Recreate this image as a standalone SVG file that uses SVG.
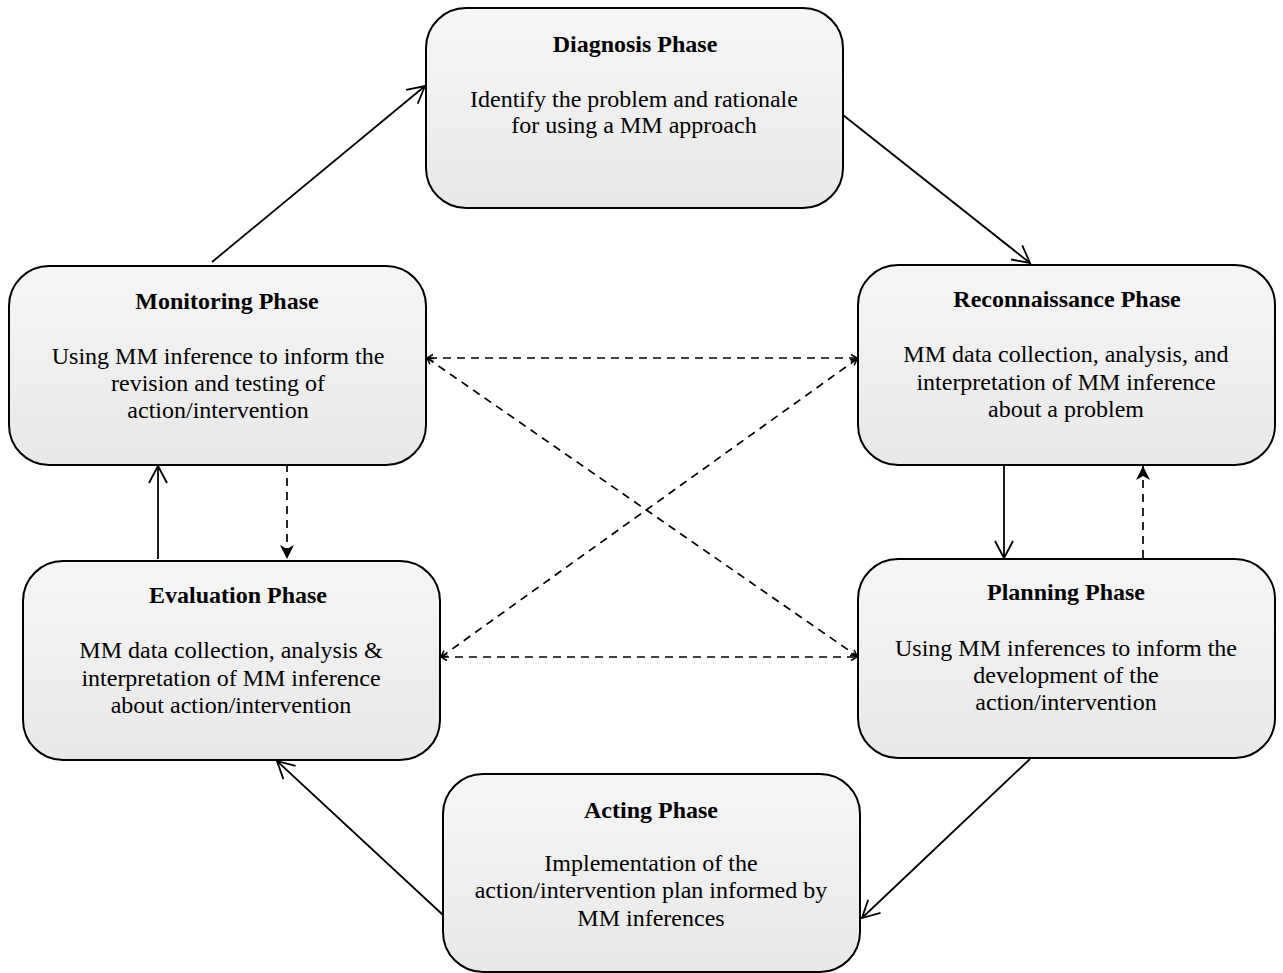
<svg xmlns="http://www.w3.org/2000/svg" width="1283" height="973" viewBox="0 0 1283 973">
<defs>
<linearGradient id="g" x1="0" y1="0" x2="0" y2="1">
<stop offset="0" stop-color="#f6f6f6"/>
<stop offset="1" stop-color="#e8e8e8"/>
</linearGradient>
<marker id="open" markerUnits="userSpaceOnUse" markerWidth="30" markerHeight="30" viewBox="-20 -15 30 30" refX="0" refY="0" orient="auto" overflow="visible">
<path d="M-17,-9 L0,0 L-17,9" fill="none" stroke="#000" stroke-width="1.8"/>
</marker>
<marker id="fill" markerUnits="userSpaceOnUse" markerWidth="30" markerHeight="30" viewBox="-20 -15 30 30" refX="0" refY="0" orient="auto" overflow="visible">
<path d="M0,0 L-14,-7 L-10,0 L-14,7 Z" fill="#000" stroke="none"/>
</marker>
<marker id="small" markerUnits="userSpaceOnUse" markerWidth="20" markerHeight="20" viewBox="-10 -10 20 20" refX="0" refY="0" orient="auto" overflow="visible">
<path d="M-6,-3.5 L0,0 L-6,3.5" fill="none" stroke="#000" stroke-width="1.5"/>
</marker>
<marker id="smallstart" markerUnits="userSpaceOnUse" markerWidth="20" markerHeight="20" viewBox="-10 -10 20 20" refX="0" refY="0" orient="auto-start-reverse" overflow="visible">
<path d="M-6,-3.5 L0,0 L-6,3.5" fill="none" stroke="#000" stroke-width="1.5"/>
</marker>
</defs>
<style>
.box{fill:url(#g);stroke:#000;stroke-width:2}
.t{font-family:"Liberation Serif","Times New Roman",serif;font-size:24px;font-weight:bold;text-anchor:middle;fill:#000}
.b{font-family:"Liberation Serif","Times New Roman",serif;font-size:24px;text-anchor:middle;fill:#000}
.s{fill:none;stroke:#000;stroke-width:1.8}
.d{fill:none;stroke:#000;stroke-width:1.7;stroke-dasharray:8 6}
</style>
<rect width="1283" height="973" fill="#fff"/>
<g id="connectors">
<line class="s" x1="212" y1="262" x2="425" y2="86" marker-end="url(#open)"/>
<line class="s" x1="843" y1="115" x2="1030" y2="263" marker-end="url(#open)"/>
<line class="s" x1="1004" y1="465" x2="1004" y2="558" marker-end="url(#open)"/>
<line class="d" x1="1143" y1="558" x2="1143" y2="466" marker-end="url(#fill)"/>
<line class="d" x1="287" y1="464" x2="287" y2="559" marker-end="url(#fill)"/>
<line class="s" x1="158" y1="559" x2="158" y2="466" marker-end="url(#open)"/>
<line class="s" x1="1030" y1="759" x2="862" y2="918" marker-end="url(#open)"/>
<line class="s" x1="443" y1="915" x2="277" y2="761" marker-end="url(#open)"/>
<line class="d" x1="857" y1="358" x2="427" y2="358" marker-start="url(#smallstart)" marker-end="url(#small)"/>
<line class="d" x1="441" y1="657" x2="857" y2="657" marker-start="url(#smallstart)" marker-end="url(#small)"/>
<line class="d" x1="427" y1="358" x2="857" y2="656" marker-start="url(#smallstart)" marker-end="url(#small)"/>
<line class="d" x1="441" y1="657" x2="857" y2="359" marker-start="url(#smallstart)" marker-end="url(#small)"/>
</g>
<g id="diagnosis">
<rect class="box" x="426" y="8" width="417" height="200" rx="40"/>
<text class="t" x="635" y="52">Diagnosis Phase</text>
<text class="b" x="634" y="107">Identify the problem and rationale</text>
<text class="b" x="634" y="133">for using a MM approach</text>
</g>
<g id="monitoring">
<rect class="box" x="9" y="266" width="417" height="199" rx="40"/>
<text class="t" x="227" y="309">Monitoring Phase</text>
<text class="b" x="218" y="364">Using MM inference to inform the</text>
<text class="b" x="218" y="391">revision and testing of</text>
<text class="b" x="218" y="418">action/intervention</text>
</g>
<g id="reconnaissance">
<rect class="box" x="858" y="265" width="417" height="200" rx="40"/>
<text class="t" x="1067" y="307">Reconnaissance Phase</text>
<text class="b" x="1066" y="362">MM data collection, analysis, and</text>
<text class="b" x="1066" y="390">interpretation of MM inference</text>
<text class="b" x="1066" y="417">about a problem</text>
</g>
<g id="planning">
<rect class="box" x="858" y="559" width="417" height="199" rx="40"/>
<text class="t" x="1066" y="600">Planning Phase</text>
<text class="b" x="1066" y="656">Using MM inferences to inform the</text>
<text class="b" x="1066" y="683">development of the</text>
<text class="b" x="1066" y="710">action/intervention</text>
</g>
<g id="evaluation">
<rect class="box" x="23" y="561" width="417" height="199" rx="40"/>
<text class="t" x="238" y="603">Evaluation Phase</text>
<text class="b" x="231" y="658">MM data collection, analysis &amp;</text>
<text class="b" x="231" y="686">interpretation of MM inference</text>
<text class="b" x="231" y="713">about action/intervention</text>
</g>
<g id="acting">
<rect class="box" x="443" y="774" width="417" height="198" rx="40"/>
<text class="t" x="651" y="818">Acting Phase</text>
<text class="b" x="651" y="871">Implementation of the</text>
<text class="b" x="651" y="898">action/intervention plan informed by</text>
<text class="b" x="651" y="926">MM inferences</text>
</g>
</svg>
